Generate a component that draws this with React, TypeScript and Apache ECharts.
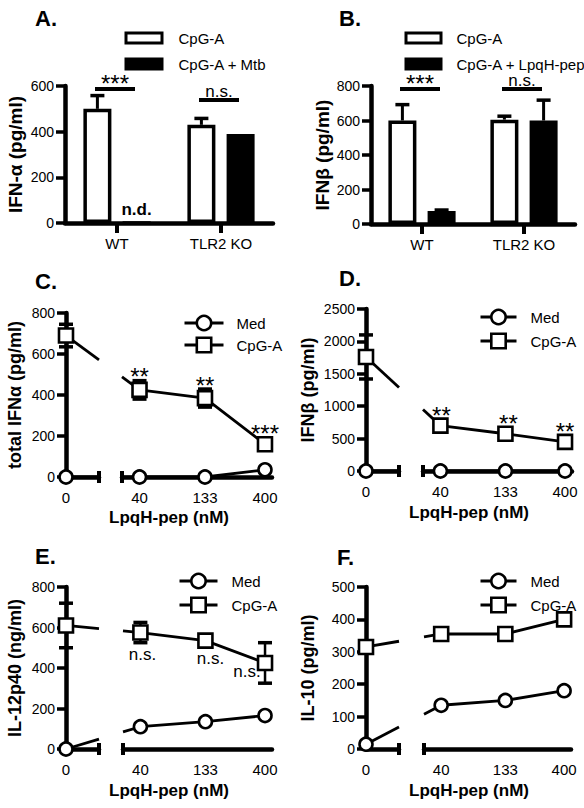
import React, { useEffect, useRef } from 'react';
import * as echarts from 'echarts';

const FONT = '"Liberation Sans", Arial, Helvetica, sans-serif';

// ---------- Panel A ----------
const barGroups = ['WT', 'TLR2 KO'];
const aCpg = [500, 430];
const aCpgErr = [58, 28];
const aMtb = [0, 390];
const aMtbErr = [0, 0];
const aMtbNotDetected = [true, false];
const aSigText = ['***', 'n.s.'];
const aSigLevel = [587, 539];

// ---------- Panel B ----------
const bCpg = [600, 605];
const bCpgErr = [92, 20];
const bLpqh = [75, 600];
const bLpqhErr = [6, 118];
const bSigText = ['***', 'n.s.'];
const bSigLevel = [783, 783];

// ---------- Panels C-F (LpqH-pep, nM) ----------
const conc = [0, 40, 133, 400];

const cMed = [0, 0, 0, 35];
const cCpg = [690, 425, 385, 160];
const cCpgErr = [55, 45, 44, 8];
const cSig = ['', '**', '**', '***'];

const dMed = [0, 0, 0, 0];
const dCpg = [1760, 700, 575, 450];
const dCpgErr = [340, 30, 60, 25];
const dSig = ['', '**', '**', '**'];

const eMed = [0, 110, 135, 165];
const eCpg = [610, 575, 535, 425];
const eCpgErr = [110, 50, 15, 100];
const eSig = ['', 'n.s.', 'n.s.', 'n.s.'];

const fMed = [15, 135, 150, 180];
const fCpg = [315, 355, 355, 400];
const fCpgErr = [0, 0, 0, 0];
const fSig = ['', '', '', ''];

const linePanels = [
  { id: 'C', letter: 'C.', yName: 'total IFNα (pg/ml)', yMax: 800, yStep: 200, med: cMed, cpg: cCpg, err: cCpgErr, sig: cSig },
  { id: 'D', letter: 'D.', yName: 'IFNβ (pg/ml)', yMax: 2500, yStep: 500, med: dMed, cpg: dCpg, err: dCpgErr, sig: dSig },
  { id: 'E', letter: 'E.', yName: 'IL-12p40 (ng/ml)', yMax: 800, yStep: 200, med: eMed, cpg: eCpg, err: eCpgErr, sig: eSig },
  { id: 'F', letter: 'F.', yName: 'IL-10 (pg/ml)', yMax: 500, yStep: 100, med: fMed, cpg: fCpg, err: fCpgErr, sig: fSig },
];

// layout (pixels)
const lineLayout = [
  { top: 313, height: 164, leftL: 66, rightL: 122, rightW: 150, nameGap: 42, lg: { left: 178, top: 309, w: 39, gap: 4, pad: 8 }, letter: [35, 281], title: [169, 517], sigOffsets: [[0, -13], [0, -13], [0, -11]] },
  { top: 309, height: 162, leftL: 366, rightL: 423, rightW: 149, nameGap: 49, lg: { left: 474, top: 303, w: 36, gap: 6, pad: 9 }, letter: [339, 278], title: [469, 512], sigOffsets: [[1, -10], [3, -10], [0, -10]] },
  { top: 587, height: 162, leftL: 66, rightL: 123, rightW: 149, nameGap: 42, lg: { left: 173, top: 567, w: 38, gap: 6, pad: 9 }, letter: [35, 556], title: [169, 790], sigOffsets: [[2, 22], [5, 18], [-18, 9]] },
  { top: 587, height: 162, leftL: 366, rightL: 424, rightW: 147, nameGap: 49, lg: { left: 474, top: 567, w: 36, gap: 6, pad: 9 }, letter: [337, 557], title: [469, 790], sigOffsets: [[0, 0], [0, 0], [0, 0]] },
];
const LEFT_W = 33;
const LOG_MIN = 29;
const LOG_MAX = 455;
const LEFT_MAX = 1;

const axisLineStyle = { color: '#000', width: 4.5 };
const tickLabel = { color: '#000', fontSize: 14, fontFamily: FONT, margin: 11, formatter: (v: number) => String(v) };

function barErrRender(offset: number) {
  return (params: any, api: any) => {
    const i = api.value(0), v = api.value(1), e = api.value(2);
    const base = api.coord([i, v]);
    const top = api.coord([i, v + e]);
    const x = base[0] + offset;
    return {
      type: 'group',
      children: [
        { type: 'line', shape: { x1: x, y1: base[1], x2: x, y2: top[1] }, style: { stroke: '#000', lineWidth: 3 } },
        { type: 'line', shape: { x1: x - 7, y1: top[1], x2: x + 7, y2: top[1] }, style: { stroke: '#000', lineWidth: 3.5 } },
      ],
    };
  };
}

function errRender(params: any, api: any) {
  const x = api.value(0), y = api.value(1), e = api.value(2);
  const hi = api.coord([x, y + e]);
  const lo = api.coord([x, y - e]);
  const cap = { stroke: '#000', lineWidth: 3.5 };
  return {
    type: 'group',
    children: [
      { type: 'line', shape: { x1: hi[0], y1: hi[1], x2: lo[0], y2: lo[1] }, style: { stroke: '#000', lineWidth: 2.5 } },
      { type: 'line', shape: { x1: hi[0] - 7, y1: hi[1], x2: hi[0] + 7, y2: hi[1] }, style: cap },
      { type: 'line', shape: { x1: lo[0] - 7, y1: lo[1], x2: lo[0] + 7, y2: lo[1] }, style: cap },
    ],
  };
}

function sigRender(texts: string[]) {
  return (params: any, api: any) => {
    const c = api.coord([api.value(0), api.value(1)]);
    const x = c[0] - 2, y = c[1];
    const t = texts[params.dataIndex];
    const star = t.indexOf('*') >= 0;
    return {
      type: 'group',
      children: [
        { type: 'line', shape: { x1: x - 20, y1: y, x2: x + 20, y2: y }, style: { stroke: '#000', lineWidth: 4 } },
        {
          type: 'text',
          style: {
            text: t, x, y: y - (star ? 5 : 8.5),
            textAlign: 'center', textVerticalAlign: 'middle', align: 'center', verticalAlign: 'middle',
            fontSize: star ? 24 : 17, fontFamily: FONT, fill: '#000',
          },
        },
      ],
    };
  };
}

function buildOption() {
  const grid: any[] = [];
  const xAxis: any[] = [];
  const yAxis: any[] = [];
  const series: any[] = [];
  const legend: any[] = [];

  // ----- bar panels A, B -----
  const barPanels = [
    { id: 'A', yName: 'IFN-α (pg/ml)', yMax: 600, s1: 'CpG-A', s2: 'CpG-A + Mtb', v1: aCpg, e1: aCpgErr, v2: aMtb, e2: aMtbErr, nd: aMtbNotDetected, sigT: aSigText, sigL: aSigLevel,
      g: { left: 65, top: 86, width: 208, height: 137 }, nameGap: 40, lg: { left: 119.5, w: 36, pad: 11.5 } },
    { id: 'B', yName: 'IFNβ (pg/ml)', yMax: 800, s1: 'CpG-A', s2: 'CpG-A + LpqH-pep', v1: bCpg, e1: bCpgErr, v2: bLpqh, e2: bLpqhErr, nd: [false, false], sigT: bSigText, sigL: bSigLevel,
      g: { left: 371, top: 86, width: 204, height: 138 }, nameGap: 39, lg: { left: 399.5, w: 35, pad: 10.5 } },
  ];
  barPanels.forEach((p, gi) => {
    grid.push({ ...p.g });
    xAxis.push({
      type: 'category', gridIndex: gi, data: barGroups,
      axisLine: { show: true, lineStyle: axisLineStyle },
      axisTick: { show: true, alignWithLabel: true, length: 10, lineStyle: { color: '#000', width: 4 } },
      axisLabel: { color: '#000', fontSize: 15, fontFamily: FONT, margin: 13 },
    });
    yAxis.push({
      type: 'value', gridIndex: gi, min: 0, max: p.yMax, interval: 200,
      name: p.yName, nameLocation: 'middle', nameRotate: 90, nameGap: p.nameGap,
      nameTextStyle: { color: '#000', fontWeight: 'bold', fontSize: 19, fontFamily: FONT },
      axisLine: { show: true, lineStyle: axisLineStyle },
      axisTick: { show: true, length: 9, lineStyle: { color: '#000', width: 3.5 } },
      axisLabel: tickLabel,
      splitLine: { show: false },
    });
    const n1 = p.id + ':' + p.s1, n2 = p.id + ':' + p.s2;
    series.push({
      type: 'bar', name: n1, xAxisIndex: gi, yAxisIndex: gi, data: p.v1,
      barWidth: 28, barGap: '40%',
      itemStyle: { color: '#fff', borderColor: '#000', borderWidth: 3.5 },
    });
    series.push({
      type: 'bar', name: n2, xAxisIndex: gi, yAxisIndex: gi,
      data: p.v2.map((v, i) => p.nd[i]
        ? { value: v, label: { show: true, position: 'top', distance: 3, formatter: 'n.d.', color: '#000', fontWeight: 'bold', fontSize: 17, fontFamily: FONT } }
        : v),
      barWidth: 28, barGap: '40%',
      itemStyle: { color: '#000', borderColor: '#000', borderWidth: 3.5 },
    });
    series.push({
      type: 'custom', xAxisIndex: gi, yAxisIndex: gi, z: 1,
      data: p.v1.map((v, i) => [i, v, p.e1[i]]).filter((r) => r[2] > 0),
      renderItem: barErrRender(-19.6),
    });
    series.push({
      type: 'custom', xAxisIndex: gi, yAxisIndex: gi, z: 1,
      data: p.v2.map((v, i) => [i, v, p.e2[i]]).filter((r) => r[2] > 0),
      renderItem: barErrRender(19.6),
    });
    series.push({
      type: 'custom', xAxisIndex: gi, yAxisIndex: gi, z: 3,
      data: p.sigL.map((v, i) => [i, v]),
      renderItem: sigRender(p.sigT),
    });
    legend.push({
      left: p.lg.left, top: 25, orient: 'vertical', icon: 'rect',
      itemWidth: p.lg.w, itemHeight: 10, itemGap: 10, selectedMode: false,
      data: [n1, n2],
      formatter: (n: string) => n.slice(2),
      itemStyle: { borderWidth: 3 },
      textStyle: { color: '#000', fontSize: 15, fontFamily: FONT, lineHeight: 16, padding: [0, 0, 0, p.lg.pad] },
    });
  });

  // ----- line panels C-F -----
  linePanels.forEach((p, k) => {
    const L = lineLayout[k];
    const gl = 2 + 2 * k, gr = 3 + 2 * k;
    grid.push({ left: L.leftL, top: L.top, width: LEFT_W, height: L.height });
    grid.push({ left: L.rightL, top: L.top, width: L.rightW, height: L.height });
    xAxis.push({
      type: 'value', gridIndex: gl, min: 0, max: LEFT_MAX, interval: 1,
      axisLine: { show: true, lineStyle: axisLineStyle, symbol: ['none', 'rect'], symbolSize: [12, 4] },
      axisTick: { show: false },
      axisLabel: { ...tickLabel, fontSize: 15, margin: 13, formatter: (v: number) => (v === conc[0] ? String(conc[0]) : '') },
      splitLine: { show: false },
    });
    xAxis.push({
      type: 'log', logBase: 10, gridIndex: gr, min: LOG_MIN, max: LOG_MAX,
      axisLine: { show: true, lineStyle: axisLineStyle, symbol: ['rect', 'none'], symbolSize: [12, 4] },
      axisTick: { show: false },
      axisLabel: { ...tickLabel, fontSize: 15, margin: 13, customValues: conc.slice(1), formatter: (v: number) => String(Math.round(v)) },
      splitLine: { show: false },
      minorSplitLine: { show: false },
    });
    yAxis.push({
      type: 'value', gridIndex: gl, min: 0, max: p.yMax, interval: p.yStep,
      name: p.yName, nameLocation: 'middle', nameRotate: 90, nameGap: L.nameGap,
      nameTextStyle: { color: '#000', fontWeight: 'bold', fontSize: 18, fontFamily: FONT },
      axisLine: { show: true, lineStyle: axisLineStyle },
      axisTick: { show: true, length: 9, lineStyle: { color: '#000', width: 3.5 } },
      axisLabel: tickLabel,
      splitLine: { show: false },
    });
    yAxis.push({
      type: 'value', gridIndex: gr, min: 0, max: p.yMax, interval: p.yStep, show: false, splitLine: { show: false },
    });

    const medName = p.id + ':Med', cpgName = p.id + ':CpG-A';
    const medStyle = {
      symbol: 'circle', symbolSize: 13, clip: false,
      lineStyle: { color: '#000', width: 2.8 },
      itemStyle: { color: '#fff', borderColor: '#000', borderWidth: 2.6 },
    };
    const cpgStyle = { ...medStyle, symbol: 'rect', symbolSize: 14 };
    const starFont = p.sig.some((s) => s.indexOf('*') >= 0);
    const sigLabel = (i: number) => ({
      show: !!p.sig[i], position: 'inside', offset: L.sigOffsets[i - 1],
      formatter: () => p.sig[i], color: '#000', fontFamily: FONT, fontSize: starFont ? 24 : 17,
    });
    // left segment (0 nM)
    series.push({ type: 'line', name: medName, xAxisIndex: gl, yAxisIndex: gl, data: [[conc[0], p.med[0]]], ...medStyle, z: 4 });
    series.push({ type: 'line', name: cpgName, xAxisIndex: gl, yAxisIndex: gl, data: [[conc[0], p.cpg[0]]], ...cpgStyle, z: 5 });
    // right segment
    series.push({
      type: 'line', name: medName, xAxisIndex: gr, yAxisIndex: gr, z: 4,
      data: conc.slice(1).map((c, i) => [c, p.med[i + 1]]), ...medStyle,
    });
    series.push({
      type: 'line', name: cpgName, xAxisIndex: gr, yAxisIndex: gr, z: 5,
      data: conc.slice(1).map((c, i) => ({ value: [c, p.cpg[i + 1]], label: sigLabel(i + 1) })), ...cpgStyle,
    });
    // error bars
    series.push({
      type: 'custom', xAxisIndex: gl, yAxisIndex: gl, z: 3,
      data: [[conc[0], p.cpg[0], p.err[0]]].filter((r) => r[2] > 0), renderItem: errRender,
    });
    series.push({
      type: 'custom', xAxisIndex: gr, yAxisIndex: gr, z: 3,
      data: conc.slice(1).map((c, i) => [c, p.cpg[i + 1], p.err[i + 1]]).filter((r) => r[2] > 0), renderItem: errRender,
    });
    legend.push({
      left: L.lg.left, top: L.lg.top, orient: 'vertical',
      itemWidth: L.lg.w, itemHeight: 18, itemGap: L.lg.gap, selectedMode: false,
      data: [medName, cpgName],
      formatter: (n: string) => n.slice(2),
      itemStyle: { color: '#fff', borderColor: '#000', borderWidth: 2.6 },
      lineStyle: { color: '#000', width: 3 },
      textStyle: { color: '#000', fontSize: 15, fontFamily: FONT, lineHeight: 18, padding: [0, 0, 0, L.lg.pad] },
    });
  });

  return { animation: false, backgroundColor: '#fff', grid, xAxis, yAxis, series, legend };
}

function textEl(text: string, x: number, y: number, size: number, bold: boolean, align: string) {
  return {
    type: 'text', x, y, z: 100,
    style: {
      text, fill: '#000', fontSize: size, fontWeight: bold ? 'bold' : 'normal', fontFamily: FONT,
      textAlign: align, textVerticalAlign: 'middle', align, verticalAlign: 'middle',
    },
  };
}

function buildGraphics(chart: any) {
  const els: any[] = [];
  els.push(textEl('A.', 35, 18, 22, true, 'left'));
  els.push(textEl('B.', 339, 18, 22, true, 'left'));
  linePanels.forEach((p, k) => {
    const L = lineLayout[k];
    els.push(textEl(p.letter, L.letter[0], L.letter[1], 22, true, 'left'));
    els.push(textEl('LpqH-pep (nM)', L.title[0], L.title[1], 17, true, 'center'));
    const gl = 2 + 2 * k, gr = 3 + 2 * k;
    [p.med, p.cpg].forEach((vals) => {
      const a = chart.convertToPixel({ xAxisIndex: gl, yAxisIndex: gl }, [conc[0], vals[0]]);
      const b = chart.convertToPixel({ xAxisIndex: gr, yAxisIndex: gr }, [conc[1], vals[1]]);
      const xl = chart.convertToPixel({ xAxisIndex: gl, yAxisIndex: gl }, [LEFT_MAX, 0])[0];
      const xr = chart.convertToPixel({ xAxisIndex: gr, yAxisIndex: gr }, [LOG_MIN, 0])[0];
      const yAt = (x: number) => a[1] + ((b[1] - a[1]) * (x - a[0])) / (b[0] - a[0]);
      const st = { stroke: '#000', lineWidth: 2.8 };
      els.push({ type: 'line', z: 1, shape: { x1: a[0], y1: a[1], x2: xl, y2: yAt(xl) }, style: st });
      els.push({ type: 'line', z: 1, shape: { x1: xr, y1: yAt(xr), x2: b[0], y2: b[1] }, style: st });
    });
  });
  return els;
}

export default function App() {
  const ref = useRef<HTMLDivElement>(null);
  useEffect(() => {
    document.body.style.margin = '0';
    const chart = echarts.init(ref.current as HTMLDivElement, null, { renderer: 'svg' });
    chart.setOption(buildOption());
    chart.setOption({ graphic: { elements: buildGraphics(chart) } });
    return () => chart.dispose();
  }, []);
  return <div ref={ref} style={{ width: 584, height: 808 }} />;
}
